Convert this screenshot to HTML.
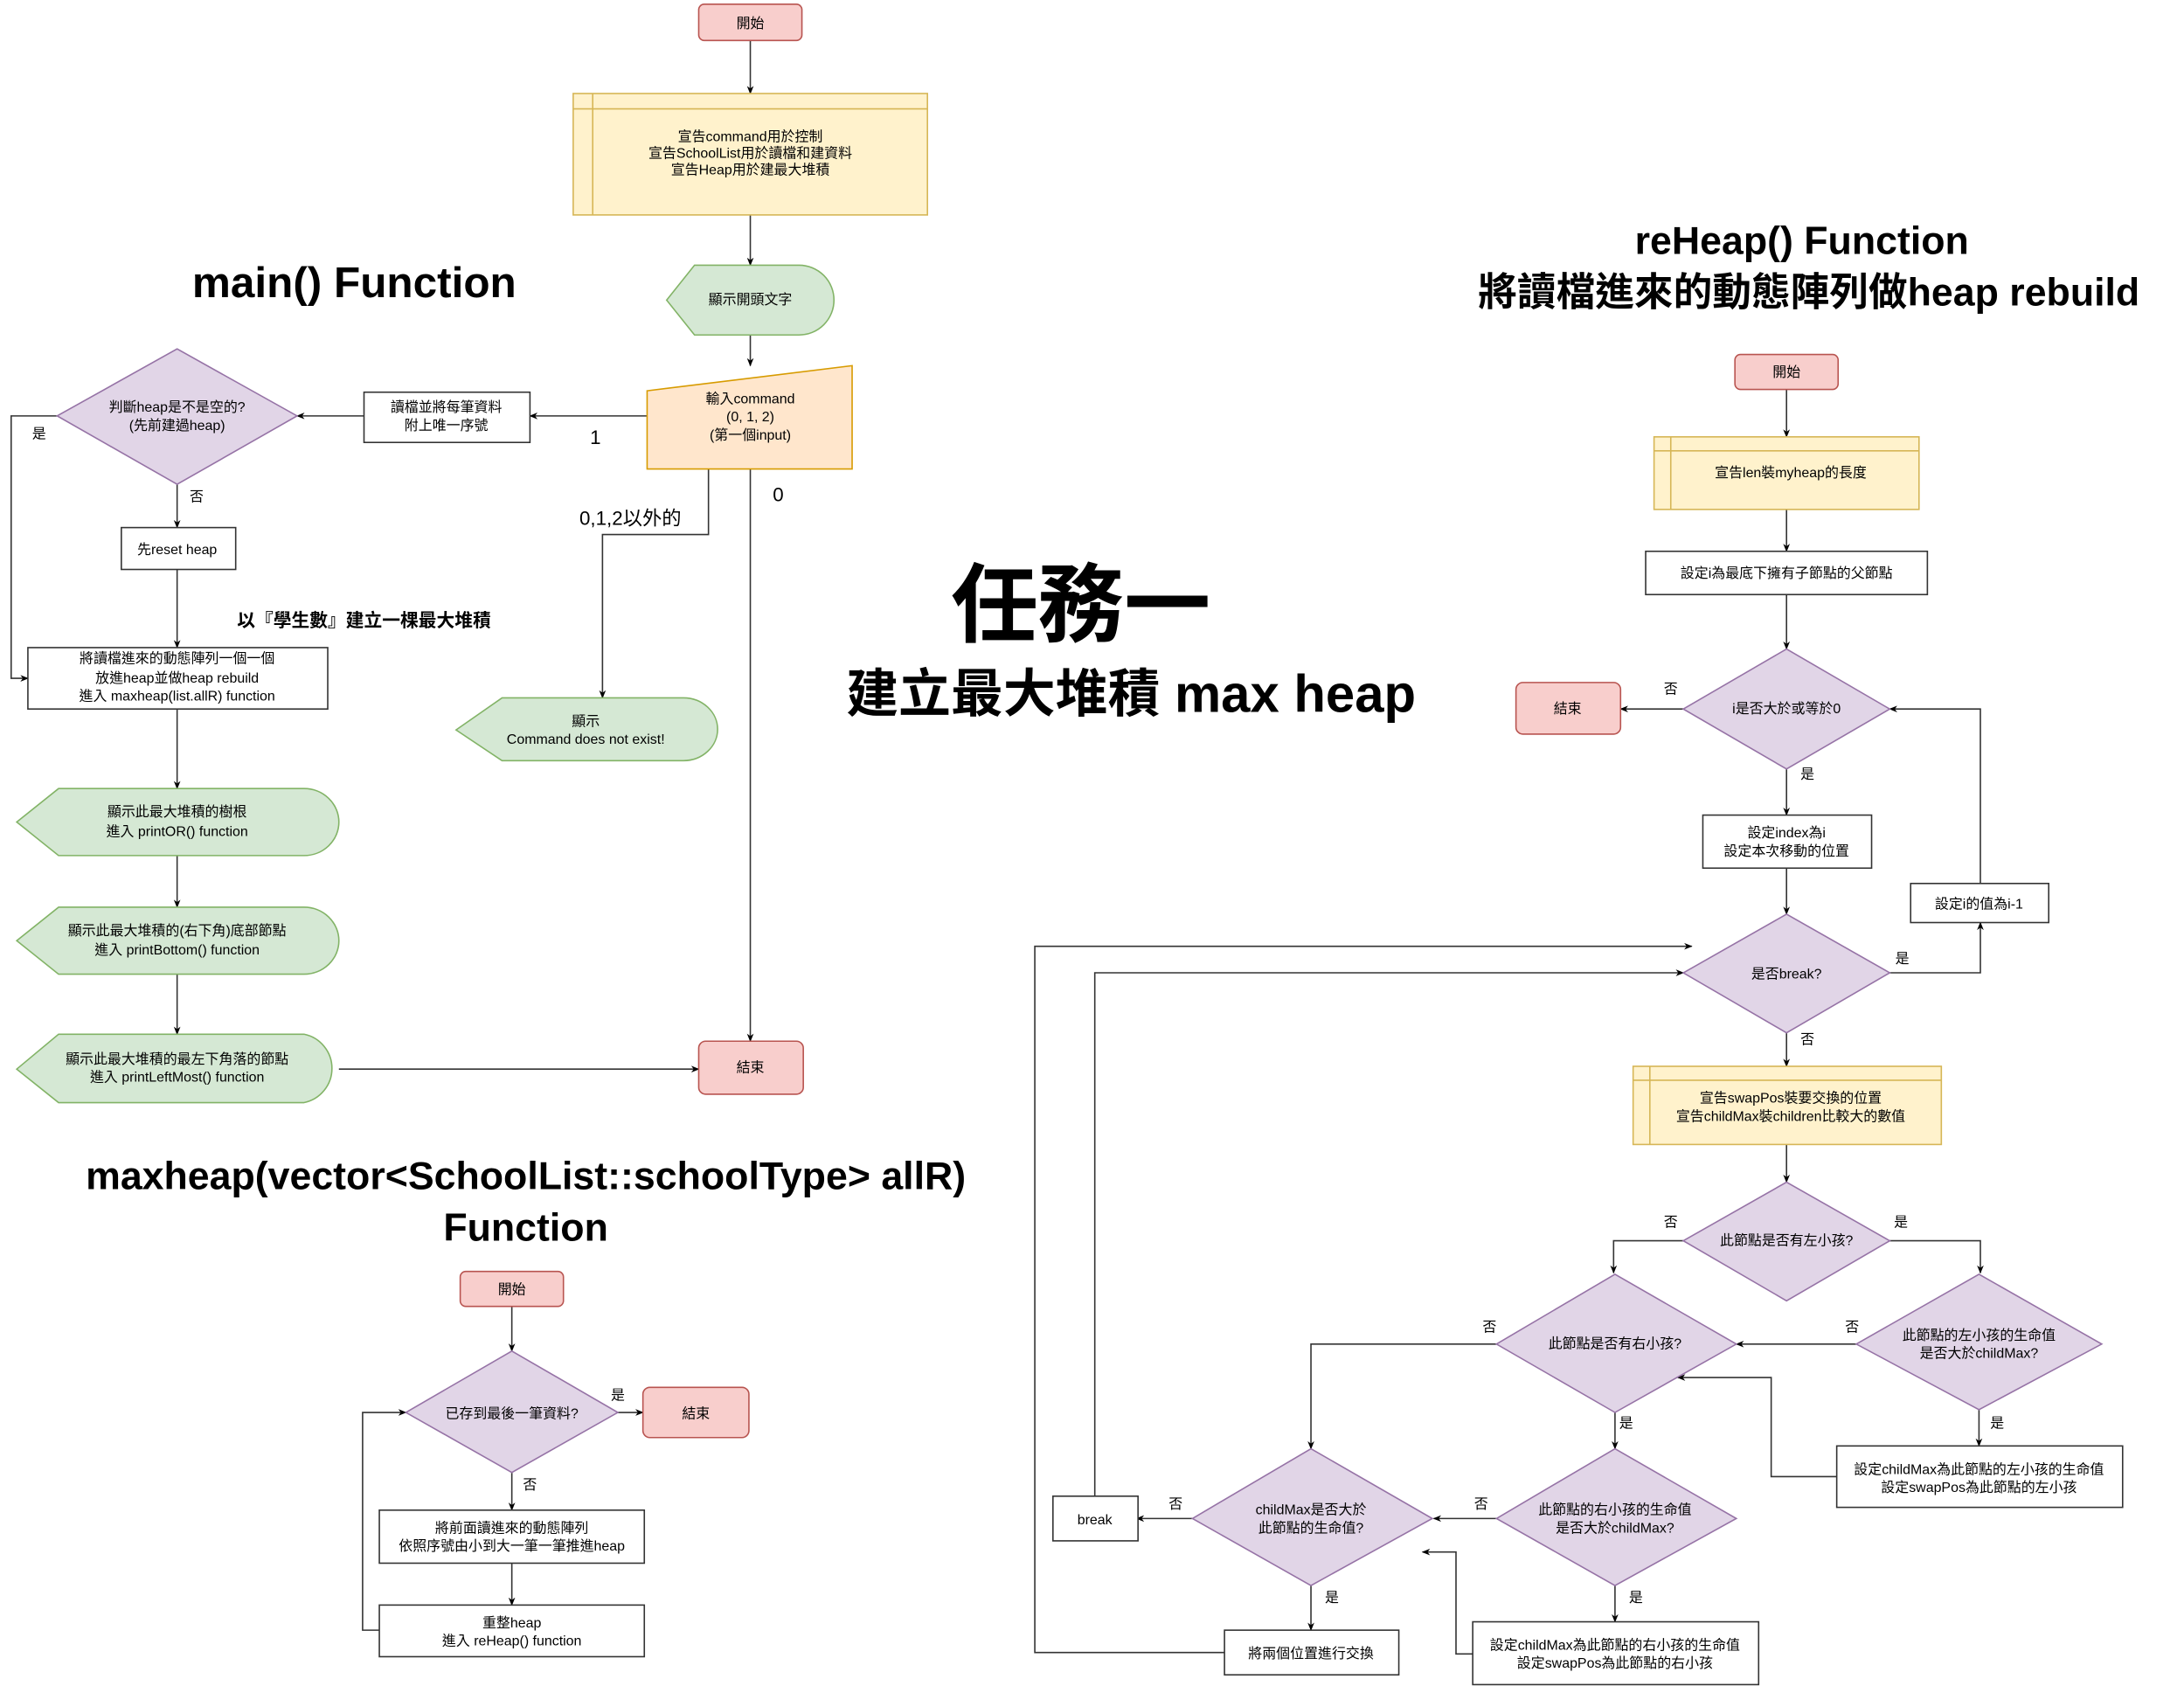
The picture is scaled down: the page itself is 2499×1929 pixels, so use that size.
<!DOCTYPE html>
<html><head><meta charset="utf-8"><style>
html,body{margin:0;padding:0;background:#fff;}
svg{display:block;}
text{font-family:"Liberation Sans","Noto Sans CJK TC",sans-serif;fill:#000;}
</style></head><body>
<svg width="2499" height="1929" viewBox="0 0 1566 1208" preserveAspectRatio="none" xmlns="http://www.w3.org/2000/svg">
<defs><marker id="a" viewBox="0 0 10 10" refX="9" refY="5" markerWidth="6" markerHeight="6" orient="auto"><path d="M0,1 L10,5 L0,9 L3,5 Z" fill="#000"/></marker></defs>
<rect width="1566" height="1208" fill="#fff"/>
<g stroke="#333" stroke-width="1" fill="none" marker-end="url(#a)">
<path d="M538,29 V67"/><path d="M538,154 V190"/><path d="M538,240 V262"/>
<path d="M464,298 H380"/><path d="M261,298 H213"/>
<path d="M41,298 H8 V486 H20"/>
<path d="M127,347 V378"/><path d="M127,408 V464"/><path d="M127,508 V565"/>
<path d="M127,613 V650"/><path d="M127,698 V741"/><path d="M243,766 H501"/>
<path d="M538,336 V746"/><path d="M508,336 V383 H432 V500"/>
<path d="M367,936 V968"/><path d="M443,1012 H461"/><path d="M367,1055 V1082"/>
<path d="M367,1120 V1150"/><path d="M272,1168 H260 V1012 H291"/>
<path d="M1281,279 V313"/><path d="M1281,365 V395"/><path d="M1281,426 V465"/>
<path d="M1207,508 H1162"/><path d="M1281,551 V584"/><path d="M1281,622 V655"/>
<path d="M1355,697 H1420 V661"/><path d="M1420,633 V508 H1355"/>
<path d="M1281,740 V764"/><path d="M1281,820 V847"/>
<path d="M1207,889 H1157 V912"/><path d="M1355,889 H1420 V912"/>
<path d="M1331,963 H1245"/><path d="M1419,1010 V1036"/>
<path d="M1317,1058 H1270 V987 H1203"/>
<path d="M1073,963 H940 V1038"/><path d="M1158,1012 V1038"/>
<path d="M1073,1088 H1028"/><path d="M1158,1136 V1162"/>
<path d="M1056,1185 H1044 V1112 H1020"/>
<path d="M855,1088 H815"/><path d="M785,1072 V697 H1207"/>
<path d="M940,1136 V1168"/><path d="M878,1184 H742 V678 H1213"/>
</g>
<g stroke-width="1">
<rect x="501" y="3" width="74" height="26" rx="4" fill="#f8cecc" stroke="#b85450"/>
<rect x="411" y="67" width="254" height="87" fill="#fff2cc" stroke="#d6b656"/>
<path d="M425,67 V154 M411,78 H665" stroke="#d6b656"/>
<path d="M478,215 L498,190 H573 A25,25 0 0 1 573,240 H498 Z" fill="#d5e8d4" stroke="#82b366"/>
<path d="M464,280 L611,262 V336 H464 Z" fill="#ffe6cc" stroke="#d79b00"/>
<rect x="261" y="281" width="119" height="36" fill="#fff" stroke="#333"/>
<path d="M41,298 L127,250 L213,298 L127,347 Z" fill="#e1d5e7" stroke="#9673a6"/>
<rect x="87" y="378" width="82" height="30" fill="#fff" stroke="#333"/>
<rect x="20" y="464" width="215" height="44" fill="#fff" stroke="#333"/>
<path d="M12,589 L42,565 H218 A25,24 0 0 1 218,613 H42 Z" fill="#d5e8d4" stroke="#82b366"/>
<path d="M12,674 L42,650 H218 A25,24 0 0 1 218,698 H42 Z" fill="#d5e8d4" stroke="#82b366"/>
<path d="M12,766 L42,741 H218 A25,25 0 0 1 218,790 H42 Z" fill="#d5e8d4" stroke="#82b366"/>
<rect x="501" y="746" width="75" height="38" rx="5" fill="#f8cecc" stroke="#b85450"/>
<path d="M327,523 L360,500 H490 A24,22 0 0 1 490,545 H360 Z" fill="#d5e8d4" stroke="#82b366"/>
<rect x="330" y="911" width="74" height="25" rx="4" fill="#f8cecc" stroke="#b85450"/>
<path d="M291,1012 L367,968 L443,1012 L367,1055 Z" fill="#e1d5e7" stroke="#9673a6"/>
<rect x="461" y="994" width="76" height="36" rx="5" fill="#f8cecc" stroke="#b85450"/>
<rect x="272" y="1082" width="190" height="38" fill="#fff" stroke="#333"/>
<rect x="272" y="1150" width="190" height="37" fill="#fff" stroke="#333"/>
<rect x="1244" y="254" width="74" height="25" rx="4" fill="#f8cecc" stroke="#b85450"/>
<rect x="1186" y="313" width="190" height="52" fill="#fff2cc" stroke="#d6b656"/>
<path d="M1198,313 V365 M1186,323 H1376" stroke="#d6b656"/>
<rect x="1180" y="395" width="202" height="31" fill="#fff" stroke="#333"/>
<path d="M1207,508 L1281,465 L1355,508 L1281,551 Z" fill="#e1d5e7" stroke="#9673a6"/>
<rect x="1087" y="489" width="75" height="37" rx="5" fill="#f8cecc" stroke="#b85450"/>
<rect x="1221" y="584" width="121" height="38" fill="#fff" stroke="#333"/>
<path d="M1207,697 L1281,655 L1355,697 L1281,740 Z" fill="#e1d5e7" stroke="#9673a6"/>
<rect x="1370" y="633" width="99" height="28" fill="#fff" stroke="#333"/>
<rect x="1171" y="764" width="221" height="56" fill="#fff2cc" stroke="#d6b656"/>
<path d="M1183,764 V820 M1171,774 H1392" stroke="#d6b656"/>
<path d="M1207,889 L1281,847 L1355,889 L1281,932 Z" fill="#e1d5e7" stroke="#9673a6"/>
<path d="M1331,963 L1419,913 L1507,963 L1419,1010 Z" fill="#e1d5e7" stroke="#9673a6"/>
<path d="M1073,963 L1158,913 L1245,963 L1158,1012 Z" fill="#e1d5e7" stroke="#9673a6"/>
<rect x="1317" y="1036" width="205" height="44" fill="#fff" stroke="#333"/>
<path d="M1073,1088 L1158,1038 L1245,1088 L1158,1136 Z" fill="#e1d5e7" stroke="#9673a6"/>
<rect x="1056" y="1162" width="205" height="45" fill="#fff" stroke="#333"/>
<path d="M855,1088 L940,1038 L1027,1088 L940,1136 Z" fill="#e1d5e7" stroke="#9673a6"/>
<rect x="755" y="1072" width="61" height="32" fill="#fff" stroke="#333"/>
<rect x="878" y="1168" width="125" height="32" fill="#fff" stroke="#333"/>
</g>
<g font-size="10" text-anchor="middle">
<text x="538" y="20">開始</text>
<text x="538" y="101">宣告command用於控制</text>
<text x="538" y="113">宣告SchoolList用於讀檔和建資料</text>
<text x="538" y="125">宣告Heap用於建最大堆積</text>
<text x="538" y="218">顯示開頭文字</text>
<text x="538" y="289">輸入command</text>
<text x="538" y="302">(0, 1, 2)</text>
<text x="538" y="315">(第一個input)</text>
<text x="320" y="295">讀檔並將每筆資料</text>
<text x="320" y="308">附上唯一序號</text>
<text x="127" y="295">判斷heap是不是空的?</text>
<text x="127" y="308">(先前建過heap)</text>
<text x="127" y="397">先reset heap</text>
<text x="127" y="475">將讀檔進來的動態陣列一個一個</text>
<text x="127" y="489">放進heap並做heap rebuild</text>
<text x="127" y="502">進入 maxheap(list.allR) function</text>
<text x="127" y="585">顯示此最大堆積的樹根</text>
<text x="127" y="599">進入 printOR() function</text>
<text x="127" y="670">顯示此最大堆積的(右下角)底部節點</text>
<text x="127" y="684">進入 printBottom() function</text>
<text x="127" y="762">顯示此最大堆積的最左下角落的節點</text>
<text x="127" y="775">進入 printLeftMost() function</text>
<text x="538" y="768">結束</text>
<text x="420" y="520">顯示</text>
<text x="420" y="533">Command does not exist!</text>
<text x="367" y="927">開始</text>
<text x="367" y="1016">已存到最後一筆資料?</text>
<text x="499" y="1016">結束</text>
<text x="367" y="1098">將前面讀進來的動態陣列</text>
<text x="367" y="1111">依照序號由小到大一筆一筆推進heap</text>
<text x="367" y="1166">重整heap</text>
<text x="367" y="1179">進入 reHeap() function</text>
<text x="1281" y="270">開始</text>
<text x="1284" y="342">宣告len裝myheap的長度</text>
<text x="1281" y="414">設定i為最底下擁有子節點的父節點</text>
<text x="1281" y="511">i是否大於或等於0</text>
<text x="1124" y="511">結束</text>
<text x="1281" y="600">設定index為i</text>
<text x="1281" y="613">設定本次移動的位置</text>
<text x="1281" y="701">是否break?</text>
<text x="1419" y="651">設定i的值為i-1</text>
<text x="1284" y="790">宣告swapPos裝要交換的位置</text>
<text x="1284" y="803">宣告childMax裝children比較大的數值</text>
<text x="1281" y="892">此節點是否有左小孩?</text>
<text x="1419" y="960">此節點的左小孩的生命值</text>
<text x="1419" y="973">是否大於childMax?</text>
<text x="1158" y="966">此節點是否有右小孩?</text>
<text x="1419" y="1056">設定childMax為此節點的左小孩的生命值</text>
<text x="1419" y="1069">設定swapPos為此節點的左小孩</text>
<text x="1158" y="1085">此節點的右小孩的生命值</text>
<text x="1158" y="1098">是否大於childMax?</text>
<text x="1158" y="1182">設定childMax為此節點的右小孩的生命值</text>
<text x="1158" y="1195">設定swapPos為此節點的右小孩</text>
<text x="940" y="1085">childMax是否大於</text>
<text x="940" y="1098">此節點的生命值?</text>
<text x="785" y="1092">break</text>
<text x="940" y="1188">將兩個位置進行交換</text>
<text x="28" y="314">是</text>
<text x="141" y="359">否</text>
<text x="443" y="1003">是</text>
<text x="380" y="1067">否</text>
<text x="1198" y="497">否</text>
<text x="1296" y="558">是</text>
<text x="1364" y="690">是</text>
<text x="1296" y="748">否</text>
<text x="1198" y="879">否</text>
<text x="1363" y="879">是</text>
<text x="1328" y="954">否</text>
<text x="1432" y="1023">是</text>
<text x="1068" y="954">否</text>
<text x="1166" y="1023">是</text>
<text x="1062" y="1081">否</text>
<text x="1173" y="1148">是</text>
<text x="843" y="1081">否</text>
<text x="955" y="1148">是</text>
</g>
<g text-anchor="middle">
<text x="427" y="318" font-size="14">1</text>
<text x="558" y="359" font-size="14">0</text>
<text x="452" y="376" font-size="14">0,1,2以外的</text>
<text x="261" y="449" font-size="13" font-weight="bold">以『學生數』建立一棵最大堆積</text>
<text x="254" y="213" font-size="31" font-weight="bold">main() Function</text>
<text x="775" y="455" font-size="62" font-weight="bold">任務一</text>
<text x="811" y="510" font-size="37.5" font-weight="bold">建立最大堆積 max heap</text>
<text x="377" y="852" font-size="28" font-weight="bold">maxheap(vector&lt;SchoolList::schoolType&gt; allR)</text>
<text x="377" y="889" font-size="28" font-weight="bold">Function</text>
<text x="1292" y="182" font-size="28" font-weight="bold">reHeap() Function</text>
<text x="1297" y="219" font-size="28" font-weight="bold">將讀檔進來的動態陣列做heap rebuild</text>
</g>
</svg>
</body></html>
